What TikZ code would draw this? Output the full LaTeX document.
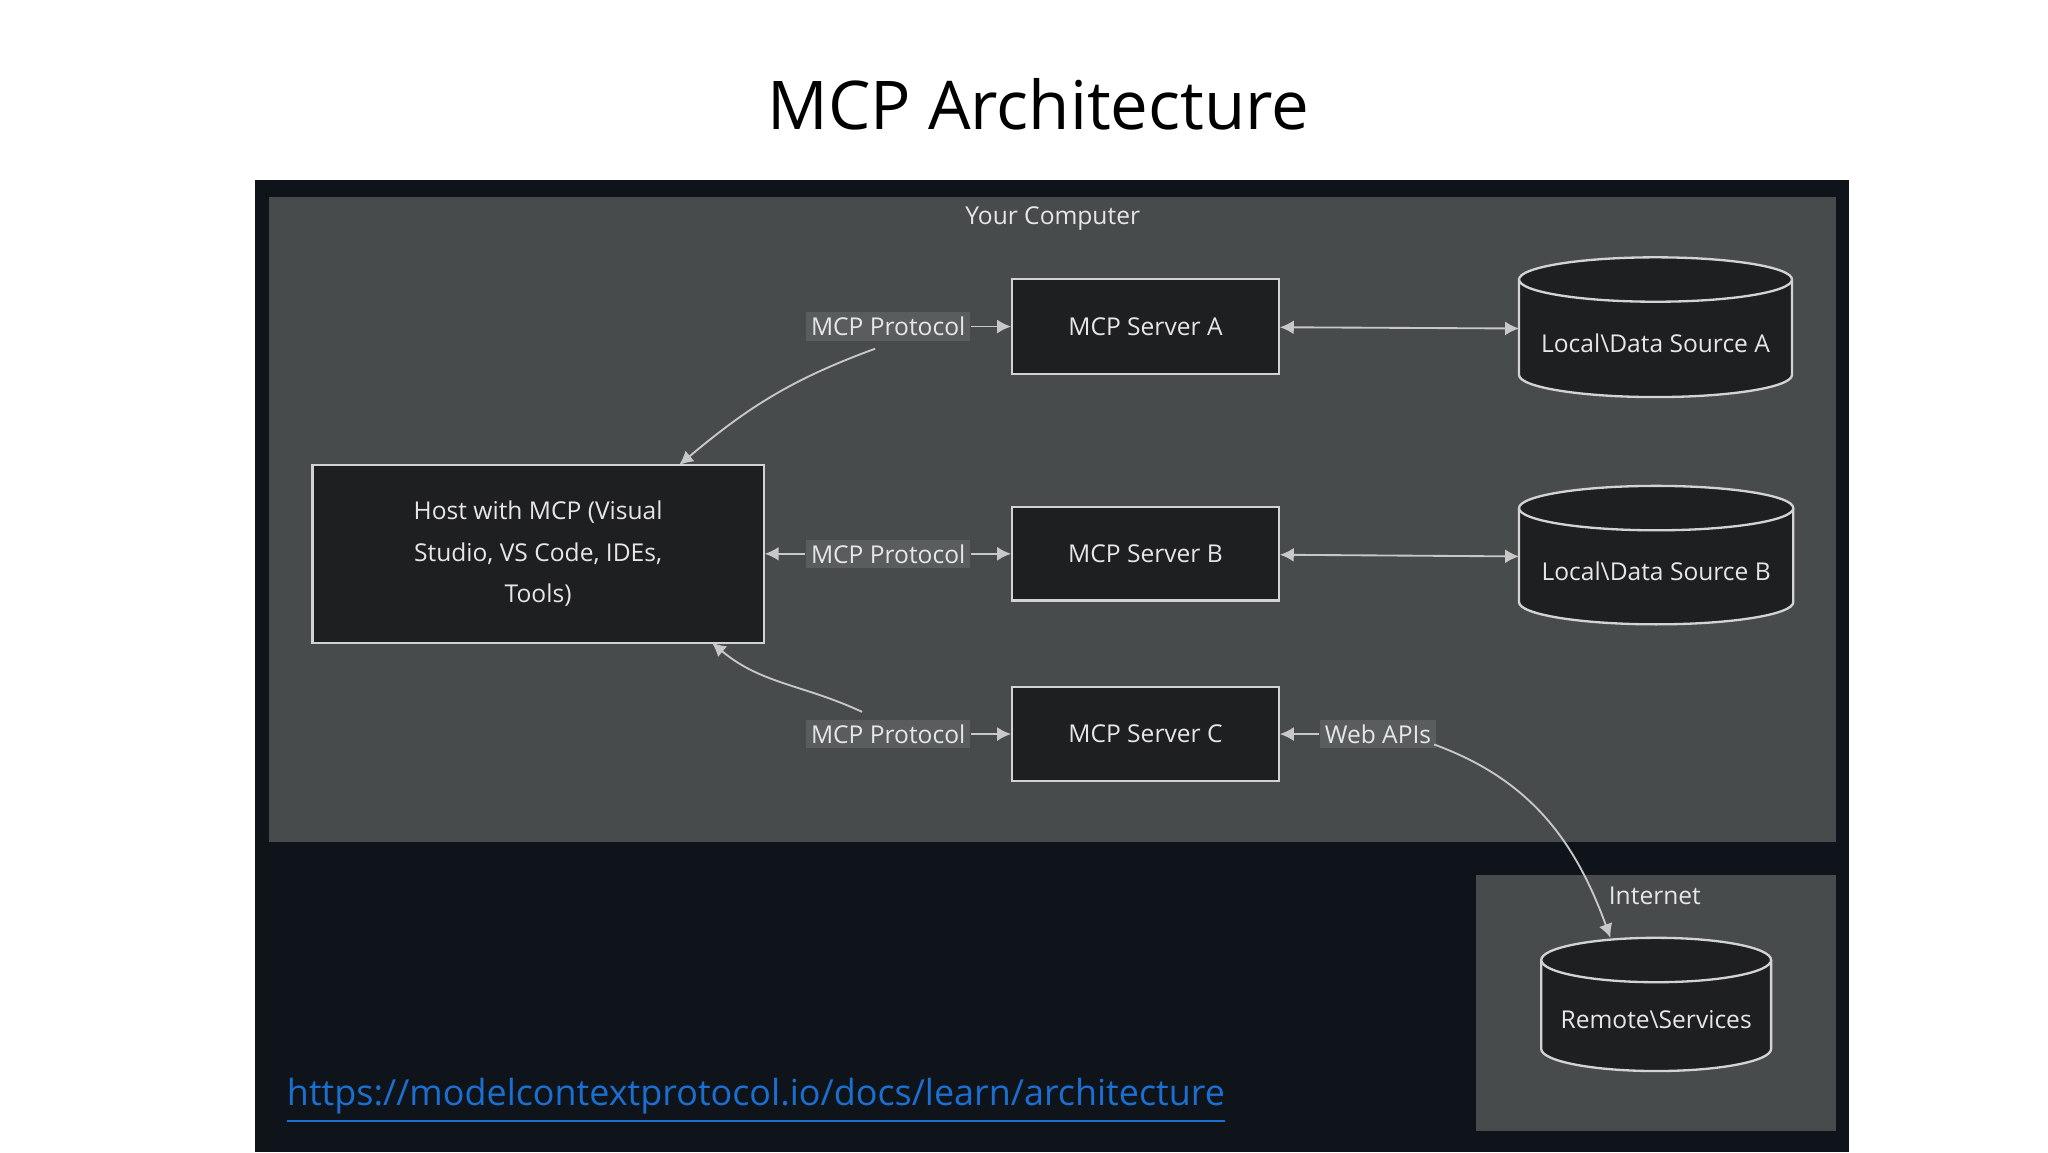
\documentclass[tikz,border=0pt]{standalone}
\usepackage{fontspec}
\setmainfont{Open Sans}
\usetikzlibrary{arrows.meta}
\definecolor{outer}{HTML}{0F131A}
\definecolor{panel}{HTML}{484B4C}
\definecolor{boxfill}{HTML}{1E1F20}
\definecolor{lbl}{HTML}{5A5D5E}
\definecolor{txt}{HTML}{E6E6E6}
\definecolor{edge}{HTML}{C8C8C8}
\definecolor{link}{HTML}{1A6FD0}
\begin{document}
\begin{tikzpicture}[x=0.0099cm,y=-0.0099cm,
  box/.style={draw=edge!80,fill=boxfill,line width=0.5pt,text=txt,inner sep=0pt},
  lab/.style={fill=lbl,text=txt,inner sep=1pt,font=\fontsize{5.3}{7}\selectfont},
  conn/.style={draw=edge,line width=0.4pt,-{Latex[length=3pt,width=3pt]}},
  both/.style={conn,{Latex[length=3pt,width=3pt]}-{Latex[length=3pt,width=3pt]}},
  cyl/.style={draw=edge!80,fill=boxfill,line width=0.5pt},
  font=\fontsize{5.3}{7}\selectfont]
\useasboundingbox[fill=white] (0,0) rectangle (1568,882);
\node (title) at (795,80) {\fontsize{14.5}{16}\selectfont MCP Architecture};
\fill[outer] (195,138) rectangle (1416,882);
% panels
\fill[panel] (206,151) rectangle (1406,645);
\node[text=txt] (yc) at (806,167) {Your Computer};
\fill[panel] (1130,670) rectangle (1406,866);
\node[text=txt] (inet) at (1267,686) {Internet};
% boxes
\node[box,minimum width=2.02cm,minimum height=0.72cm] (sa) at (877,250) {MCP Server A};
\node[box,minimum width=2.02cm,minimum height=0.71cm] (sb) at (877,424) {MCP Server B};
\node[box,minimum width=2.02cm,minimum height=0.71cm] (sc) at (877,562) {MCP Server C};
\node[box,minimum width=3.42cm,minimum height=1.35cm,align=center] (host) at (412,424)
  {Host with MCP (Visual\\[2pt] Studio, VS Code, IDEs,\\[2pt] Tools)};
% cylinders
\foreach \n/\xa/\xb/\ya/\yb/\t in {da/1163/1372/197/304/{Local\textbackslash Data Source A},
  db/1163/1373/372/478/{Local\textbackslash Data Source B},
  rs/1180/1356/718/820/{Remote\textbackslash Services}}{
  \pgfmathsetmacro\rx{(\xb-\xa)/2}
  \pgfmathsetmacro\cx{(\xb+\xa)/2}
  \path[cyl] (\xa,\ya+17) -- (\xa,\yb-17) arc[start angle=180,end angle=360,x radius=\rx,y radius=-17]
    -- (\xb,\ya+17) arc[start angle=0,end angle=180,x radius=\rx,y radius=-17] -- cycle;
  \path[cyl] (\xa,\ya+17) arc[start angle=180,end angle=360,x radius=\rx,y radius=-17];
  \node[text=txt] (\n) at (\cx,{(\ya+\yb)/2+12}) {\t};
  \coordinate (\n-w) at (\xa,{(\ya+\yb)/2+1});
  \coordinate (\n-t) at (\cx-35,\ya);
}
% labels
\node[lab] (la) at (680,250) {MCP Protocol};
\node[lab] (lb) at (680,424) {MCP Protocol};
\node[lab] (lc) at (680,562) {MCP Protocol};
\node[lab] (wa) at (1055,562) {Web APIs};
% connector end points
\coordinate (las) at (670,267);
\coordinate (hn) at (520,356);
\coordinate (lcn) at (660,545);
\coordinate (hs) at (545,492);
\coordinate (wae) at (1098,570);
% connectors
\draw[conn] (la) -- (sa);
\draw[conn] (las) to[out=200,in=40] (hn);
\draw[conn] (lb) -- (host);
\draw[conn] (lb) -- (sb);
\draw[conn] (lc) -- (sc);
\draw[conn] (lcn) to[out=155,in=-40] (hs);
\draw[both] (sa) -- (da-w);
\draw[both] (sb) -- (db-w);
\draw[conn] (wa) -- (sc);
\draw[conn] (wae) to[out=-20,in=110] (rs-t);
% link
\node[text=link,anchor=west,inner sep=0pt] (url) at (219,843) {\fontsize{7.75}{10}\selectfont\underline{https://modelcontextprotocol.io/docs/learn/architecture}};
\end{tikzpicture}
\end{document}
